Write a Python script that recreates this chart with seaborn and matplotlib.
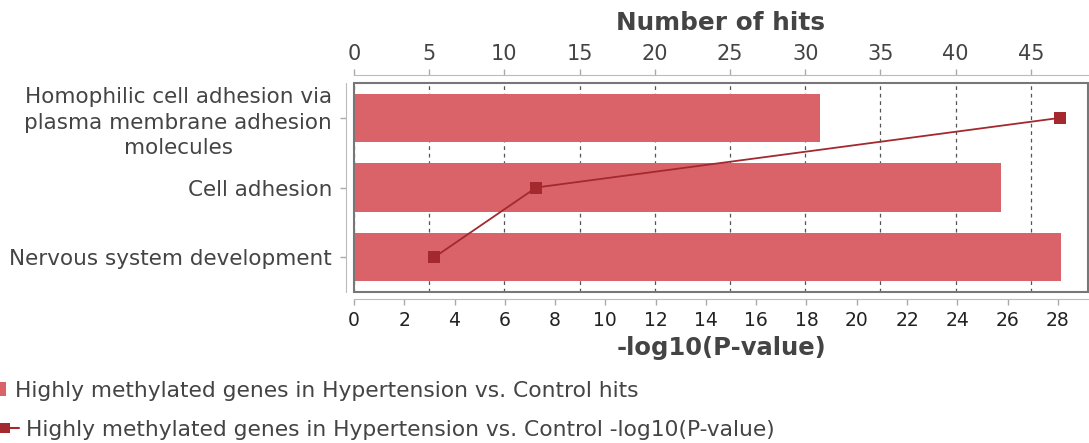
import matplotlib
matplotlib.use("Agg")
import matplotlib.pyplot as plt
import seaborn as sns
from matplotlib.patches import Patch, Rectangle
from matplotlib.lines import Line2D

# data
categories = [
    "Homophilic cell adhesion via\nplasma membrane adhesion\nmolecules",
    "Cell adhesion",
    "Nervous system development",
]
hits = [31, 43, 47]
neg_log_p = [28.1, 7.25, 3.2]
hits_ticks = list(range(0, 50, 5))
p_ticks = list(range(0, 30, 2))
series_name = "Highly methylated genes in Hypertension vs. Control"

bar_color = "#DA636A"
line_color = "#A4292E"
text_color = "#444444"

sns.set_style("white")
plt.rcParams['font.family'] = ['DejaVu Sans']

fig = plt.figure(figsize=(10.89, 4.43), dpi=100)
ax = fig.add_axes([354 / 1089, 1 - 292 / 443, 734 / 1089, 209 / 443])
ax2 = ax.twiny()

# bars -> number of hits (top axis)
sns.barplot(x=hits, y=categories, ax=ax, color=bar_color, saturation=1,
            width=0.69, orient="h", linewidth=0, zorder=2)
ax.set_xlim(0, 48.8)
ax.set_xticks(hits_ticks)
ax.xaxis.tick_top()
ax.xaxis.set_label_position("top")
ax.set_xlabel("Number of hits", fontsize=17.8, fontweight="bold",
              color=text_color, labelpad=10)
ax.set_ylabel("")
ax.grid(axis="x", linestyle=(0, (3, 3)), color="#555555", lw=0.9)
ax.grid(axis="y", visible=False)
ax.set_axisbelow(True)
ax.tick_params(axis="x", top=True, bottom=False, labeltop=True,
               labelbottom=False, length=4, width=1, color="#aaaaaa",
               labelsize=15, labelcolor=text_color, pad=4)
ax.tick_params(axis="y", left=True, length=4, width=1, color="#aaaaaa",
               labelsize=15.5, labelcolor=text_color, pad=6)
for s in ["bottom", "right"]:
    ax.spines[s].set_visible(False)
ax.spines["top"].set_position(("outward", 5.8))
ax.spines["left"].set_position(("outward", 5.8))
ax.spines["top"].set_color("#bbbbbb")
ax.spines["left"].set_color("#bbbbbb")

# plot area frame
ax.add_patch(Rectangle((0, 0), 1, 1, transform=ax.transAxes, fill=False,
                       ec="#777777", lw=1.5, clip_on=False, zorder=5))

# line -> -log10(P-value) (bottom axis)
sns.pointplot(x=neg_log_p, y=categories, ax=ax2, color=line_color,
              markers="s", orient="h", markersize=8, linewidth=1.3,
              markeredgewidth=0)
ax2.set_xlim(0, 29.2)
ax2.set_xticks(p_ticks)
ax2.xaxis.tick_bottom()
ax2.xaxis.set_label_position("bottom")
ax2.set_xlabel("-log10(P-value)", fontsize=17.5, fontweight="bold",
               color=text_color, labelpad=4)
ax2.set_ylabel("")
ax2.tick_params(axis="x", bottom=True, top=False, labelbottom=True,
                labeltop=False, length=4, width=1, color="#aaaaaa",
                labelsize=13.5, labelcolor="#222222", pad=5)
for s in ["top", "right", "left"]:
    ax2.spines[s].set_visible(False)
ax2.spines["bottom"].set_position(("outward", 5))
ax2.spines["bottom"].set_color("#bbbbbb")
ax2.grid(False)

# category labels: centred multi-line text like the original
for lab in ax.get_yticklabels():
    lab.set_multialignment("center")
    lab.set_linespacing(1.35)

# legend, two rows, handles cut at the left edge as in the original
fig.legend(handles=[Patch(color=bar_color, lw=0)],
           labels=[series_name + " hits"],
           loc="center left", bbox_to_anchor=(-7 / 1089, 1 - 391 / 443),
           frameon=False, borderpad=0, borderaxespad=0,
           handlelength=0.6, handleheight=0.6, handletextpad=0.42,
           fontsize=15.7, labelcolor=text_color)
fig.legend(handles=[Line2D([], [], color=line_color, marker="s",
                           markersize=7.5, lw=1.5, markeredgewidth=0)],
           labels=[series_name + " -log10(P-value)"],
           loc="center left", bbox_to_anchor=(-9 / 1089, 1 - 430 / 443),
           frameon=False, borderpad=0, borderaxespad=0,
           handlelength=1.3, handletextpad=0.3,
           fontsize=15.7, labelcolor=text_color)

fig.savefig("out.png", dpi=100)
